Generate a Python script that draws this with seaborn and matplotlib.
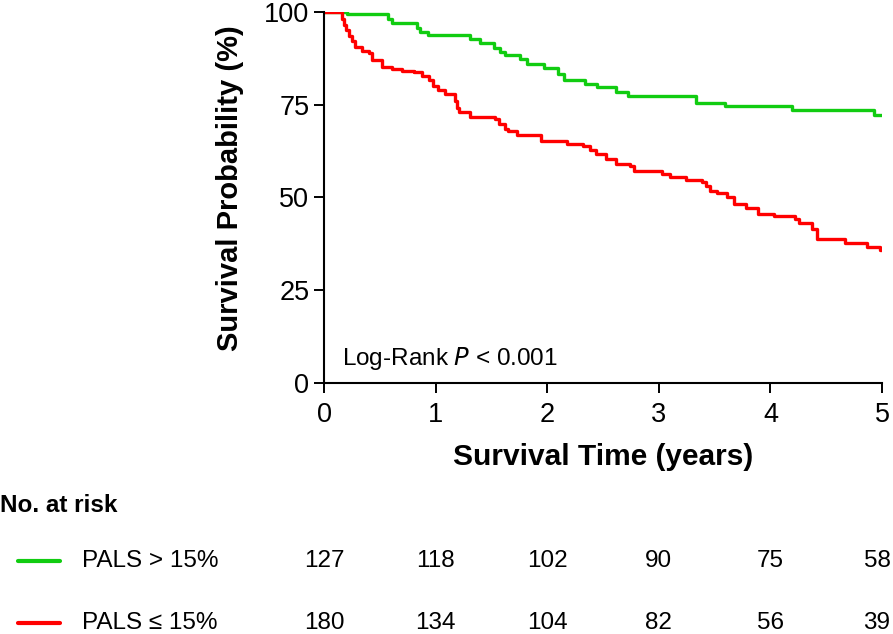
import numpy as np
import pandas as pd
import matplotlib
matplotlib.use('Agg')
import matplotlib.pyplot as plt
import matplotlib.transforms as mtransforms
import seaborn as sns

# Kaplan-Meier steps (time in years, survival %)
high_time = [0, 0.21, 0.57, 0.61, 0.83, 0.86, 0.93, 1.31, 1.40, 1.52, 1.58, 1.62, 1.76, 1.82,
             1.97, 2.10, 2.15, 2.34, 2.45, 2.62, 2.72, 3.33, 3.59, 4.19, 4.93, 5.0]
high_surv = [100, 99.3, 98.1, 97.0, 95.6, 94.5, 93.8, 92.7, 91.6, 90.1, 89.2, 88.3, 87.3, 86.0,
             84.9, 83.1, 81.5, 80.6, 79.8, 78.3, 77.2, 75.5, 74.5, 73.5, 72.3, 72.3]

low_time = [0, 0.16, 0.18, 0.20, 0.22, 0.25, 0.28, 0.34, 0.40, 0.43, 0.52, 0.61, 0.70, 0.81,
            0.88, 0.94, 0.98, 1.02, 1.08, 1.17, 1.19, 1.21, 1.31, 1.53, 1.57, 1.62, 1.65, 1.73,
            1.94, 2.18, 2.32, 2.38, 2.44, 2.53, 2.62, 2.74, 2.78, 3.03, 3.10, 3.24, 3.39, 3.42,
            3.46, 3.52, 3.61, 3.67, 3.78, 3.89, 4.03, 4.22, 4.26, 4.37, 4.42, 4.67, 4.87, 4.98, 5.0]
low_surv = [100, 98.0, 96.5, 95.0, 93.5, 92.1, 90.5, 89.5, 88.9, 86.9, 85.0, 84.6, 84.1, 83.7,
            82.6, 81.5, 80.0, 78.8, 77.7, 75.9, 74.0, 72.9, 71.7, 71.0, 69.8, 68.5, 67.8, 66.9,
            65.1, 64.4, 63.8, 62.8, 61.6, 60.4, 59.1, 58.4, 57.1, 56.4, 55.6, 54.8, 54.2, 53.0,
            51.7, 51.3, 50.2, 48.1, 47.2, 45.6, 45.0, 44.1, 43.2, 41.4, 38.7, 37.6, 36.7, 35.8, 35.8]

groups = ['PALS > 15%', 'PALS ≤ 15%']
colors = ['#11cc11', '#ff0000']
risk_times = [0, 1, 2, 3, 4, 5]
risk_high = [127, 118, 102, 90, 75, 58]
risk_low = [180, 134, 104, 82, 56, 39]

df = pd.concat([
    pd.DataFrame({'time': high_time, 'surv': high_surv, 'group': groups[0]}),
    pd.DataFrame({'time': low_time, 'surv': low_surv, 'group': groups[1]}),
])

sns.set_style('ticks', {'text.color': 'black', 'axes.labelcolor': 'black',
                        'xtick.color': 'black', 'ytick.color': 'black', 'axes.edgecolor': 'black'})
plt.rcParams['font.family'] = ['Liberation Sans', 'DejaVu Sans']

fig = plt.figure(figsize=(8.93, 6.34), dpi=100)
ax = fig.add_axes([324 / 893, 1 - 383 / 634, 558 / 893, 371.3 / 634])

sns.lineplot(data=df, x='time', y='surv', hue='group', palette=colors, estimator=None,
             drawstyle='steps-post', linewidth=2.4, legend=False, ax=ax)

ax.set_xlim(0, 5)
ax.set_ylim(0, 100)
ax.set_xticks(risk_times)
ax.set_yticks([0, 25, 50, 75, 100])
ax.tick_params(labelsize=19.5, width=1.4, length=7.5, direction='out')
ax.tick_params(axis='x', pad=6)
ax.tick_params(axis='y', pad=3)
for s in ['left', 'bottom']:
    ax.spines[s].set_linewidth(1.5)
sns.despine(ax=ax)
ax.set_xlabel('Survival Time (years)', fontsize=21.5, fontweight='bold', labelpad=11)
ax.set_ylabel('Survival Probability (%)', fontsize=21, fontweight='bold')
ax.yaxis.set_label_coords(-0.144, 0.525)

ax.text(0.16, 6.7, 'Log-Rank $\\it{P}$ < 0.001', fontsize=17.5, ha='left', va='center')

# risk table below the plot
trans = mtransforms.blended_transform_factory(ax.transData, fig.transFigure)
fig.text(0.0, 1 - 506 / 634, 'No. at risk', fontsize=17.5, fontweight='bold', va='center')
row_y = [561, 623]
for row, (name, col, counts) in enumerate(zip(groups, colors, [risk_high, risk_low])):
    yy = 1 - row_y[row] / 634
    fig.add_artist(plt.Line2D([18 / 893, 60 / 893], [yy, yy], color=col, linewidth=3))
    fig.text(82 / 893, yy, name, fontsize=17.5, va='center')
    for t, n in zip(risk_times, counts):
        ax.text(min(t, 4.955), yy, str(n), fontsize=17.5, ha='center', va='center',
                transform=trans, clip_on=False)

fig.savefig('out.png', dpi=100)
